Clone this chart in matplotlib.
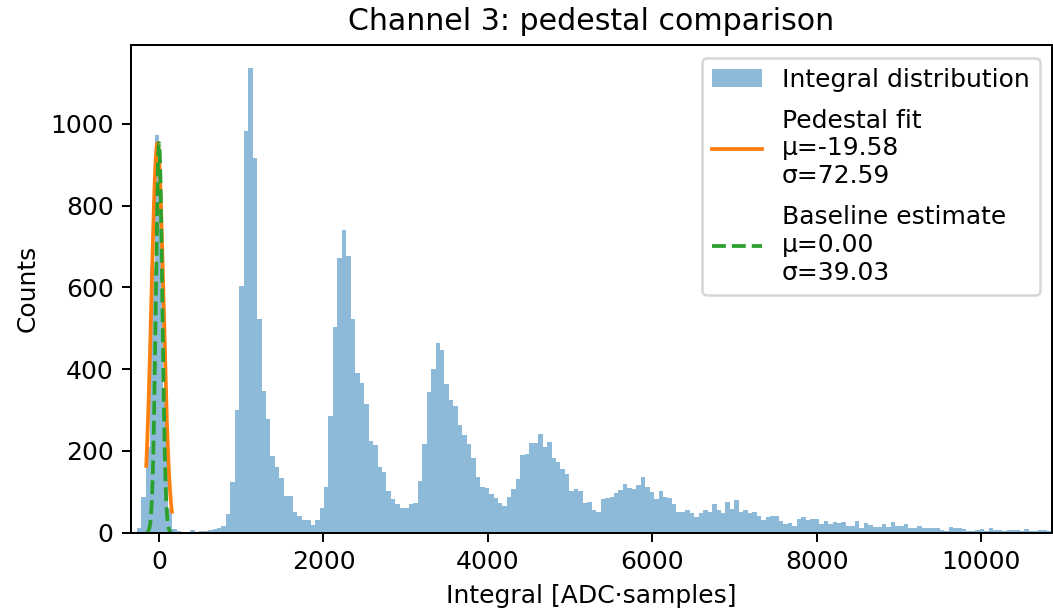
import numpy as np
import matplotlib
matplotlib.use("Agg")
import matplotlib.pyplot as plt

# ---- data ----
bin_start = -272.0
bin_width = 54.25
counts = [
    12, 86, 210, 650, 972, 800, 350, 57, 8, 3,
    1, 2, 5, 1, 3, 4, 6, 8, 11, 15,
    45, 123, 300, 602, 982, 1136, 917, 522, 347, 278,
    186, 161, 133, 89, 89, 51, 40, 30, 30, 18,
    31, 60, 112, 285, 503, 672, 740, 676, 522, 391,
    366, 315, 223, 213, 161, 148, 102, 81, 70, 61,
    61, 70, 73, 126, 217, 344, 400, 464, 446, 364,
    323, 309, 262, 239, 217, 183, 137, 112, 110, 93,
    84, 71, 65, 88, 106, 130, 190, 192, 220, 219,
    241, 210, 221, 182, 172, 156, 143, 102, 106, 102,
    73, 75, 55, 50, 81, 84, 86, 96, 104, 118,
    110, 106, 116, 137, 111, 100, 82, 102, 88, 85,
    69, 51, 51, 55, 47, 38, 47, 55, 51, 70,
    55, 47, 75, 57, 79, 49, 55, 47, 51, 40,
    30, 37, 40, 40, 29, 22, 24, 16, 34, 37,
    30, 32, 32, 20, 29, 22, 25, 24, 25, 16,
    16, 27, 10, 24, 18, 14, 14, 21, 14, 25,
    16, 16, 21, 12, 12, 16, 12, 10, 10, 12,
    6, 3, 14, 10, 10, 9, 4, 3, 7, 9,
    3, 10, 7, 6, 4, 6, 6, 6, 4, 8,
    4, 3, 7, 7, 4, 6,
]

ped_mu, ped_sigma = -19.58, 72.59
base_mu, base_sigma = 0.00, 39.03
curve_amp = 953.0
curve_lo, curve_hi = -156.0, 156.0

x_limits = (-341, 10860)
x_ticks = [0, 2000, 4000, 6000, 8000, 10000]
y_ticks = [0, 200, 400, 600, 800, 1000]

# ---- figure ----
DPI = 180
fig = plt.figure(figsize=(1053 / DPI, 612 / DPI), dpi=DPI)
ax = fig.add_axes([131 / 1053, (612 - 532.5) / 612, (1052 - 131) / 1053, (532.5 - 45) / 612])

counts_arr = np.array(counts, dtype=float)
edges = bin_start + bin_width * np.arange(len(counts_arr) + 1)
centers = 0.5 * (edges[:-1] + edges[1:])
ax.hist(centers, bins=edges, weights=counts_arr, color="C0", alpha=0.5,
        label="Integral distribution")

xc = np.linspace(curve_lo, curve_hi, 300)
ped_curve = curve_amp * np.exp(-0.5 * ((xc - ped_mu) / ped_sigma) ** 2)
base_curve = curve_amp * np.exp(-0.5 * ((xc - base_mu) / base_sigma) ** 2)
ax.plot(xc, ped_curve, color="C1", lw=1.5,
        label=f"Pedestal fit\nμ={ped_mu:.2f}\nσ={ped_sigma:.2f}")
ax.plot(xc, base_curve, color="C2", lw=1.5, ls="--",
        label=f"Baseline estimate\nμ={base_mu:.2f}\nσ={base_sigma:.2f}")

ax.set_xlim(*x_limits)
ax.set_xticks(x_ticks)
ax.set_yticks(y_ticks)
ax.set_title("Channel 3: pedestal comparison")
ax.set_xlabel("Integral [ADC·samples]")
ax.set_ylabel("Counts")
ax.legend(loc="upper right", labelspacing=0.68)

fig.savefig("out.png", dpi=DPI)
